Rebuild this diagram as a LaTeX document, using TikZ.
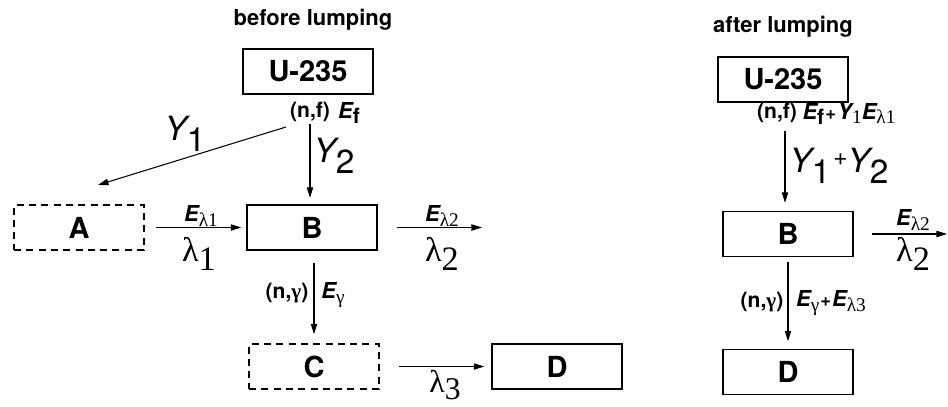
\documentclass[tikz,border=0pt]{standalone}
\usepackage{fontspec}
\newfontfamily\helv{TeX Gyre Heros}
\newfontfamily\tms{Liberation Serif}
\usetikzlibrary{positioning, arrows.meta}

% label pieces
\newcommand{\Eit}{{\helv\bfseries\itshape\fontsize{12.5}{12.5}\selectfont E}}
\newcommand{\Elab}[1]{\Eit\raisebox{-2.4pt}{\tms\fontsize{11}{11}\selectfont #1}}
\newcommand{\Efis}{\Eit\raisebox{-3.2pt}{\helv\bfseries\fontsize{12}{12}\selectfont f}}
\newcommand{\plusb}{{\helv\bfseries\fontsize{10.5}{10.5}\selectfont +}}
\newcommand{\biglam}[2][5pt]{{\tms\fontsize{19.5}{19.5}\selectfont λ\raisebox{-#1}{#2}}}
\newcommand{\Ylab}[1]{{\helv\fontsize{19}{19}\selectfont\itshape Y\upshape\raisebox{-6pt}{#1}}}

\tikzset{
	boxnode/.style={
			draw=black,
			line width=0.8pt,
			minimum width=2.6cm,
			minimum height=0.9cm,
			inner sep=0pt,
			font=\helv\bfseries\fontsize{16.5}{16.5}\selectfont
		},
	dashnode/.style={
			boxnode,
			dash pattern=on 4pt off 3pt
		},
	titlenode/.style={
			inner sep=0pt,
			font=\helv\bfseries\fontsize{12.5}{12.5}\selectfont
		},
	reacnode/.style={
			inner sep=0pt,
			font=\helv\bfseries\fontsize{12}{12}\selectfont
		},
	labelnode/.style={
			inner sep=0pt
		},
	flowline/.style={
			line width=0.6pt,
			-{Triangle[length=6pt,width=3.6pt]}
		}
}

\begin{document}
\begin{tikzpicture}[x=0.2mm, y=-0.2mm]

\useasboundingbox (0,0) rectangle (948,406);

% before lumping
\node[titlenode] (tTitle) at (313,20) {before lumping};
\node[boxnode] (tU) at (308,71.5) {U-235};
\node[reacnode] (tNF) at (310,112) {(n,f)};
\node[labelnode] (tEf) at (349,113) {\Efis};
\node[dashnode] (tA) at (79,227.5) {A};
\node[boxnode] (tB) at (312,227.5) {B};
\node[dashnode] (tC) at (314,366.5) {C};
\node[boxnode] (tD) at (557,366.5) {D};
\coordinate (tYstart) at (286,127);
\coordinate (tYend) at (98,185);
\coordinate (tBout) at (482,227.5);

\draw[flowline] (tYstart) -- (tYend);
\draw[flowline, shorten <=0.3mm, shorten >=1.3mm] (tNF.south) -- (tNF.south |- tB.north);
\draw[flowline, shorten <=2.2mm, shorten >=1mm] (tA.east) -- (tB.west);
\draw[flowline, shorten <=3.8mm] (tB.east) -- (tBout);
\draw[flowline, shorten <=2.4mm, shorten >=1.8mm] (tC.north |- tB.south) -- (tC.north);
\draw[flowline, shorten <=3.8mm, shorten >=1.4mm] (tC.east) -- (tD.west);

\node[labelnode] (tY1) at (185,134) {\Ylab{1}};
\node[labelnode] (tY2) at (334,156) {\Ylab{2}};
\node[labelnode] (tEl1) at (201,216) {\Elab{λ1}};
\node[labelnode] (tL1) at (199,254) {\biglam{1}};
\node[labelnode] (tEl2) at (442,216) {\Elab{λ2}};
\node[labelnode] (tL2) at (442,254) {\biglam{2}};
\node[reacnode] (tNG) at (287,293) {(n,{\tms γ})};
\node[labelnode] (tEg) at (333,295) {\Elab{γ}};
\node[labelnode] (tL3) at (445,385) {{\tms\fontsize{18}{18}\selectfont λ\raisebox{-3.5pt}{3}}};

% after lumping
\node[titlenode] (rTitle) at (783,27) {after lumping};
\node[boxnode] (rU) at (783,79.5) {U-235};
\node[reacnode] (rNF) at (777,113) {(n,f)};
\node[labelnode] (rEf) at (849,114) {\Efis\kern0.6pt\plusb\kern0.8pt{\helv\bfseries\itshape\fontsize{12.5}{12.5}\selectfont Y}\raisebox{-2.4pt}{\tms\fontsize{11}{11}\selectfont 1}\Elab{λ1}};
\node[boxnode] (rB) at (788,234) {B};
\node[boxnode] (rD) at (788,372) {D};
\coordinate (rBout) at (947,234);

\draw[flowline, shorten <=1.6mm, shorten >=1.6mm] ([xshift=1.6mm]rNF.south) -- ([xshift=1.6mm]rNF.south |- rB.north);
\draw[flowline, shorten <=3.6mm] (rB.east) -- (rBout);
\draw[flowline, shorten <=1mm, shorten >=1.5mm] (rB.south) -- (rD.north);

\node[labelnode] (rY) at (839,166) {\Ylab{1}\,\raisebox{4pt}{\helv\fontsize{14}{14}\selectfont +}\Ylab{2}};
\node[labelnode] (rEl2) at (913,220) {\Elab{λ2}};
\node[labelnode] (rL2) at (913,254) {\biglam{2}};
\node[reacnode] (rNG) at (762,302) {(n,{\tms γ})};
\node[labelnode] (rEg) at (831,303) {\Elab{γ}\kern0.6pt\plusb\kern0.6pt\Elab{λ3}};

\end{tikzpicture}
\end{document}
